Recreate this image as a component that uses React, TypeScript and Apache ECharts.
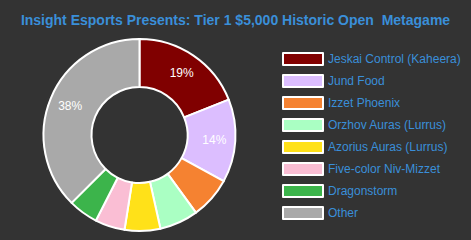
import React, { useEffect, useRef } from "react";
import * as echarts from "echarts";

const categories = [
  "Jeskai Control (Kaheera)",
  "Jund Food",
  "Izzet Phoenix",
  "Orzhov Auras (Lurrus)",
  "Azorius Auras (Lurrus)",
  "Five-color Niv-Mizzet",
  "Dragonstorm",
  "Other",
];
const values = [19, 14, 7, 6.5, 6, 5, 5, 37.5];
const colors = ["#800000", "#dcbeff", "#f58231", "#aaffc3", "#ffe119", "#fabed4", "#3cb44b", "#a9a9a9"];
const titleText = "Insight Esports Presents: Tier 1 $5,000 Historic Open  Metagame";

export default function App() {
  const ref = useRef<HTMLDivElement>(null);
  useEffect(() => {
    document.body.style.margin = "0";
    const chart = echarts.init(ref.current!, null, { renderer: "svg" });
    const total = values.reduce((a, b) => a + b, 0);
    chart.setOption({
      animation: false,
      backgroundColor: "#333333",
      title: {
        text: titleText,
        left: "center",
        top: 8,
        textStyle: { color: "#3a8fd9", fontSize: 14, fontWeight: "bold", fontFamily: "Liberation Sans, Arial, sans-serif" },
      },
      legend: {
        orient: "vertical",
        left: 282,
        top: 52,
        padding: 0,
        itemWidth: 40,
        itemHeight: 12,
        itemGap: 8,
        icon: "rect",
        itemStyle: { borderColor: "#ffffff", borderWidth: 2 },
        textStyle: { color: "#3a8fd9", fontSize: 12, lineHeight: 12, fontFamily: "Liberation Sans, Arial, sans-serif" },
        data: categories,
      },
      series: [
        {
          type: "pie",
          center: [139.5, 135],
          radius: [48, 96],
          startAngle: 90,
          clockwise: true,
          avoidLabelOverlap: false,
          itemStyle: { borderColor: "#ffffff", borderWidth: 2 },
          label: {
            show: true,
            position: "inside",
            color: "#ffffff",
            fontSize: 12,
            fontFamily: "Liberation Sans, Arial, sans-serif",
            formatter: (p: any) => {
              const pct = Math.round((p.value / total) * 100);
              return pct >= 10 ? pct + "%" : "";
            },
          },
          labelLine: { show: false },
          emphasis: { disabled: true },
          data: categories.map((c, i) => ({ name: c, value: values[i], itemStyle: { color: colors[i] } })),
        },
      ],
    });
    return () => chart.dispose();
  }, []);
  return <div ref={ref} style={{ width: 471, height: 240 }} />;
}
